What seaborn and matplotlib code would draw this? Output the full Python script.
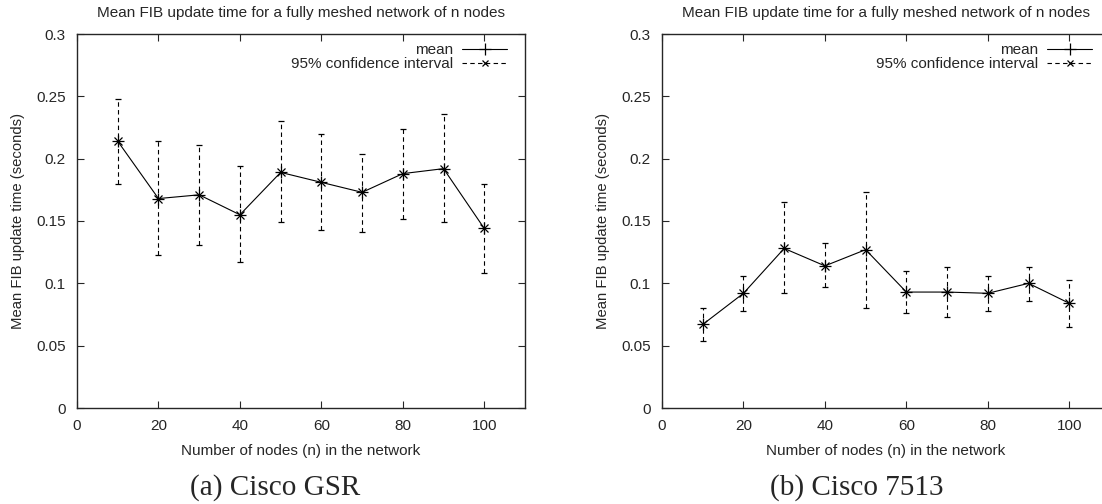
import matplotlib
matplotlib.use("Agg")
import matplotlib.pyplot as plt
import seaborn as sns
import numpy as np
from matplotlib.lines import Line2D

# number of nodes
nodes = [10, 20, 30, 40, 50, 60, 70, 80, 90, 100]

# (a) Cisco GSR
gsr_mean = [0.214, 0.168, 0.171, 0.155, 0.189, 0.181, 0.173, 0.188, 0.192, 0.144]
gsr_lo   = [0.180, 0.123, 0.131, 0.117, 0.149, 0.143, 0.141, 0.152, 0.149, 0.108]
gsr_hi   = [0.248, 0.214, 0.211, 0.194, 0.230, 0.220, 0.204, 0.224, 0.236, 0.180]

# (b) Cisco 7513
c75_mean = [0.067, 0.092, 0.128, 0.114, 0.127, 0.093, 0.093, 0.092, 0.100, 0.084]
c75_lo   = [0.054, 0.078, 0.092, 0.097, 0.080, 0.076, 0.073, 0.078, 0.086, 0.065]
c75_hi   = [0.080, 0.106, 0.165, 0.132, 0.173, 0.110, 0.113, 0.106, 0.113, 0.103]

title = "Mean FIB update time for a fully meshed network of n nodes"
captions = ["(a) Cisco GSR", "(b) Cisco 7513"]

sns.set_style("ticks")
plt.rcParams['font.family'] = ['Liberation Sans', 'DejaVu Sans']

fig = plt.figure(figsize=(11.02, 5.04), dpi=100)
ax1 = fig.add_axes([77/1102, 96/504, 448/1102, 374/504])
ax2 = fig.add_axes([662/1102, 96/504, 448/1102, 374/504])

def panel(ax, mean, lo, hi):
    # mean line with "+" marks, the "x" of the error bars sits on top -> asterisk
    sns.lineplot(x=nodes, y=mean, ax=ax, color='k', lw=0.8, marker='+',
                 markersize=8, markeredgewidth=0.9, markeredgecolor='k')
    mean = np.array(mean)
    yerr = [mean - np.array(lo), np.array(hi) - mean]
    eb = ax.errorbar(nodes, mean, yerr=yerr, fmt='x', color='k', ms=6, mew=0.9,
                     elinewidth=0.8, capsize=2.5, capthick=0.8, ls='none')
    eb[2][0].set_linestyle((0, (4, 3)))
    ax.set_xlim(0, 110)
    ax.set_ylim(0, 0.3)
    ax.set_xticks([0, 20, 40, 60, 80, 100])
    ax.set_yticks([0, 0.05, 0.1, 0.15, 0.2, 0.25, 0.3])
    ax.set_yticklabels(['0', '0.05', '0.1', '0.15', '0.2', '0.25', '0.3'])
    ax.tick_params(direction='in', length=5, width=0.8, top=True, right=True,
                   labelsize=11, pad=8)
    for s in ax.spines.values():
        s.set_linewidth(1.0)
    ax.set_title(title, fontsize=11, pad=12)
    ax.set_xlabel("Number of nodes (n) in the network", fontsize=11, labelpad=8)
    ax.set_ylabel("Mean FIB update time (seconds)", fontsize=10.7, labelpad=8)
    h1 = Line2D([], [], color='k', lw=0.8, marker='+', ms=8, mew=0.9)
    h2 = Line2D([], [], color='k', lw=0.8, ls=(0, (4, 3)), marker='x', ms=5, mew=0.9)
    ax.legend([h1, h2], ["mean", "95% confidence interval"], loc='upper right',
              bbox_to_anchor=(0.973, 0.991), frameon=False, markerfirst=False,
              handlelength=2.9, fontsize=11, borderaxespad=0, labelspacing=0.0,
              handletextpad=0.6)

panel(ax1, gsr_mean, gsr_lo, gsr_hi)
panel(ax2, c75_mean, c75_lo, c75_hi)

fig.text(275/1102, 1 - 488/504, captions[0], ha='center', va='center',
         fontsize=21, family='Liberation Serif')
fig.text(857/1102, 1 - 488/504, captions[1], ha='center', va='center',
         fontsize=21, family='Liberation Serif')

fig.savefig("out.png", dpi=100)
